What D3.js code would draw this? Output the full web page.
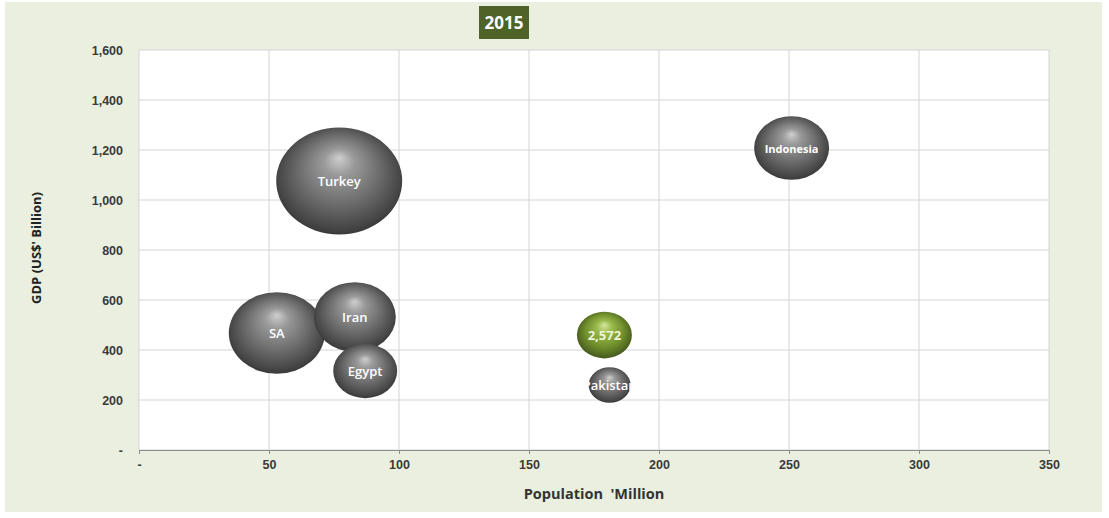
<!DOCTYPE html>
<html>
<head>
<meta charset="utf-8">
<script src="https://cdn.jsdelivr.net/npm/d3@7/dist/d3.min.js"></script>
<style>
  html, body { margin: 0; padding: 0; background: #ffffff; }
  svg { display: block; font-family: "Open Sans", "Noto Sans", sans-serif; }
</style>
</head>
<body>
<svg id="chart" width="1109" height="518"></svg>
<script>
// Countries: population (million), GDP (US$ billion), bubble size
const countries  = ["Turkey", "SA", "Iran", "Egypt", "2,572", "Pakistan", "Indonesia"];
const population = [77, 53, 83, 87, 179, 181, 251];
const gdp        = [1076, 468, 532, 316, 460, 260, 1208];
const bubbleSize = [13500, 7840, 5720, 3480, 2572, 1500, 4780];
const highlight  = [false, false, false, false, true, false, false];

const xTicks = [0, 50, 100, 150, 200, 250, 300, 350];
const yTicks = [0, 200, 400, 600, 800, 1000, 1200, 1400, 1600];

const chartTitle = "2015";
const xTitle = "Population  'Million";
const yTitle = "GDP (US$' Billion)";

const W = 1109, H = 518;
const plot = { left: 139, right: 1049, top: 50, bottom: 450 };

const svg = d3.select("#chart");

// Chart background
svg.append("rect")
  .attr("x", 5).attr("y", 2)
  .attr("width", W - 12).attr("height", H - 8)
  .attr("fill", "#eaefdf");

// Plot area
svg.append("rect")
  .attr("x", plot.left).attr("y", plot.top)
  .attr("width", plot.right - plot.left).attr("height", plot.bottom - plot.top)
  .attr("fill", "#ffffff");

const x = d3.scaleLinear().domain([0, 350]).range([plot.left, plot.right]);
const y = d3.scaleLinear().domain([0, 1600]).range([plot.bottom, plot.top]);
// Bubble area proportional to size
const r = d3.scaleSqrt().domain([0, 2572]).range([0, 27.5]);
const squash = 0.85;

const fmt = v => v === 0 ? "-" : d3.format(",")(v);

// Gridlines
svg.append("g").selectAll("line.v").data(xTicks).join("line")
  .attr("x1", d => x(d)).attr("x2", d => x(d))
  .attr("y1", plot.top).attr("y2", plot.bottom)
  .attr("stroke", "#d4d4d4").attr("stroke-width", 1);
svg.append("g").selectAll("line.h").data(yTicks).join("line")
  .attr("x1", plot.left).attr("x2", plot.right)
  .attr("y1", d => y(d)).attr("y2", d => y(d))
  .attr("stroke", "#d4d4d4").attr("stroke-width", 1);

// X axis
const xAxis = svg.append("g")
  .attr("transform", `translate(0,${plot.bottom})`)
  .call(d3.axisBottom(x).tickValues(xTicks).tickFormat(fmt).tickSize(4).tickPadding(6));
xAxis.select(".domain").attr("stroke", "#8c8c8c");
xAxis.selectAll(".tick line").attr("stroke", "#8c8c8c");
xAxis.selectAll("text").attr("fill", "#3a3a3a").attr("font-size", 12.5).attr("font-weight", 600);

// Y axis
const yAxis = svg.append("g")
  .attr("transform", `translate(${plot.left - 16},0)`)
  .call(d3.axisLeft(y).tickValues(yTicks).tickFormat(fmt).tickSize(0).tickPadding(0));
yAxis.select(".domain").remove();
yAxis.selectAll("text").attr("fill", "#3a3a3a").attr("font-size", 12.5).attr("font-weight", 600);

// Axis titles
svg.append("text")
  .attr("x", 594).attr("y", 499)
  .attr("text-anchor", "middle")
  .style("white-space", "pre")
  .attr("font-size", 14.5).attr("font-weight", 700).attr("fill", "#333")
  .text(xTitle);
svg.append("text")
  .attr("transform", "translate(41,248) rotate(-90)")
  .attr("text-anchor", "middle")
  .attr("font-size", 13).attr("font-weight", 700).attr("fill", "#222")
  .text(yTitle);

// Title badge
const tb = svg.append("g");
tb.append("rect")
  .attr("x", 479).attr("y", 6).attr("width", 50).attr("height", 33)
  .attr("fill", "#4f6228");
tb.append("text")
  .attr("x", 504).attr("y", 29)
  .attr("text-anchor", "middle")
  .attr("font-size", 17).attr("font-weight", 700).attr("fill", "#ffffff")
  .text(chartTitle);

// Sphere shading
const defs = svg.append("defs");
function sphere(id, stops) {
  const g = defs.append("radialGradient").attr("id", id)
    .attr("cx", "50%").attr("cy", "48%").attr("r", "55%")
    .attr("fx", "50%").attr("fy", "28%");
  stops.forEach(([o, c]) => g.append("stop").attr("offset", o).attr("stop-color", c));
}
sphere("gray", [["0%", "#cfcfcf"], ["22%", "#9a9a9a"], ["60%", "#6a6a6a"], ["88%", "#464646"], ["100%", "#333333"]]);
sphere("green", [["0%", "#d6e7a0"], ["25%", "#9bbb4e"], ["65%", "#6f8d2c"], ["90%", "#4e6420"], ["100%", "#3f511a"]]);

const data = countries.map((c, i) => ({
  name: c, pop: population[i], gdp: gdp[i], size: bubbleSize[i], hi: highlight[i]
}));

const bubbles = svg.append("g").selectAll("g").data(data).join("g");
bubbles.append("ellipse")
  .attr("cx", d => x(d.pop)).attr("cy", d => y(d.gdp))
  .attr("rx", d => r(d.size)).attr("ry", d => r(d.size) * squash)
  .attr("fill", d => d.hi ? "url(#green)" : "url(#gray)");
bubbles.append("text")
  .attr("x", d => x(d.pop)).attr("y", d => y(d.gdp) + 4.5)
  .attr("text-anchor", "middle")
  .attr("font-size", d => d.name === "Indonesia" ? 11 : 13)
  .attr("font-weight", d => (d.hi || d.name === "Indonesia") ? 700 : 600)
  .attr("fill", d => d.hi ? "#eef5d6" : "#ffffff")
  .text(d => d.name);
</script>
</body>
</html>
